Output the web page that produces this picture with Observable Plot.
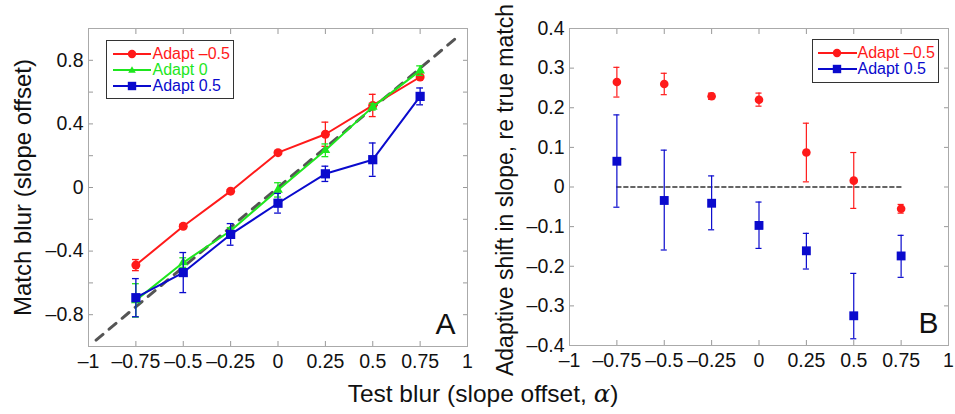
<!DOCTYPE html>
<html><head><meta charset="utf-8">
<script src="https://cdn.jsdelivr.net/npm/d3@7"></script>
<script src="https://cdn.jsdelivr.net/npm/@observablehq/plot@0.6"></script>
<style>
body{margin:0;background:#fff;}
#wrap{position:relative;width:955px;height:414px;font-family:"Liberation Sans",Arial,sans-serif;overflow:hidden;}
#wrap svg.plot{position:absolute;top:0;}
.legend{position:absolute;border:1.5px solid #333;background:#fff;font-size:16px;box-sizing:border-box;padding-top:5px;}
.row{display:flex;align-items:center;height:16px;line-height:16px;white-space:nowrap;}
.row svg{flex:none;}
#xtitle{position:absolute;top:382px;left:483px;transform:translateX(-50%);font-size:24.5px;line-height:24px;white-space:nowrap;color:#111;}
</style>
</head><body>
<div id="wrap"></div>
<script>
// ---------- data ----------
const testBlur = [-0.75, -0.5, -0.25, 0, 0.25, 0.5, 0.75];

// Panel A: match blur
const matchAdaptNeg = [-0.488, -0.244, -0.023, 0.219, 0.335, 0.516, 0.695];
const errAdaptNeg   = [0.035, 0.012, 0.008, 0.010, 0.076, 0.070, 0.012];
const matchAdapt0   = [-0.71, -0.472, -0.272, -0.015, 0.234, 0.507, 0.735];
const errAdapt0     = [0.105, 0.030, 0.020, 0.045, 0.040, 0.020, 0.030];
const matchAdaptPos = [-0.693, -0.535, -0.295, -0.099, 0.086, 0.175, 0.573];
const errAdaptPos   = [0.120, 0.126, 0.068, 0.062, 0.048, 0.105, 0.053];

// Panel B: adaptive shift
const shiftAdaptNeg = [0.265, 0.260, 0.229, 0.220, 0.087, 0.016, -0.055];
const shiftNegLo    = [0.227, 0.233, 0.221, 0.204, 0.013, -0.054, -0.066];
const shiftNegHi    = [0.302, 0.287, 0.237, 0.237, 0.161, 0.087, -0.044];
const shiftAdaptPos = [0.065, -0.034, -0.041, -0.097, -0.161, -0.325, -0.174];
const shiftPosLo    = [-0.051, -0.159, -0.108, -0.155, -0.207, -0.383, -0.228];
const shiftPosHi    = [0.182, 0.093, 0.028, -0.038, -0.117, -0.218, -0.122];

const seriesNames = ["Adapt \u20130.5", "Adapt 0", "Adapt 0.5"];
const seriesColors = ["#ff1a1a", "#1ee61e", "#0a0acd"];
const seriesSymbols = ["circle", "triangle", "square"];

const xTicks = [-1, -0.75, -0.5, -0.25, 0, 0.25, 0.5, 0.75, 1];
const yTicksA = [-0.8, -0.6, -0.4, -0.2, 0, 0.2, 0.4, 0.6, 0.8];
const yLabelsA = [-0.8, -0.4, 0, 0.4, 0.8];
const yTicksB = [-0.4, -0.3, -0.2, -0.1, 0, 0.1, 0.2, 0.3, 0.4];
const identityExtent = [-0.96, 0.96];
const zeroLineExtent = [-0.75, 0.75];

const xTitle = "Test blur (slope offset, ";
const yTitleA = "Match blur (slope offset)";
const yTitleB = "Adaptive shift in slope, re true match";

// ---------- helpers ----------
const fmt = d => d < 0 ? "\u2013" + String(Math.abs(d)) : String(d);
const font = "Liberation Sans, Arial, sans-serif";

function frameTicks(yTicks, yLabels) {
  const tk = {tickSize: 5, fill: "none", label: null, stroke: "#999"};
  return [
    Plot.axisX(xTicks, {...tk, anchor: "bottom", dy: -5}),
    Plot.axisX(xTicks, {...tk, anchor: "top", dy: 5}),
    Plot.axisY(yTicks, {...tk, anchor: "left", dx: 5}),
    Plot.axisY(yTicks, {...tk, anchor: "right", dx: -5}),
    Plot.axisX(xTicks, {anchor: "bottom", tickSize: 0, tickPadding: 8, tickFormat: fmt, label: null, fill: "#111", fontSize: 19.5}),
    Plot.axisY(yLabels, {anchor: "left", tickSize: 0, tickPadding: 5, tickFormat: fmt, label: null, fill: "#111", fontSize: 19.5}),
    Plot.frame({stroke: "#aaa"})
  ];
}

function rows(xs, ys, lo, hi) {
  return xs.map((x, i) => ({x, y: ys[i], lo: lo[i], hi: hi[i]}));
}

function errMarks(data, color, cap, sw) {
  return [
    Plot.ruleX(data, {x: "x", y1: "lo", y2: "hi", stroke: color, strokeWidth: sw}),
    Plot.ruleY(data, {y: "lo", x1: d => d.x - cap, x2: d => d.x + cap, stroke: color, strokeWidth: sw}),
    Plot.ruleY(data, {y: "hi", x1: d => d.x - cap, x2: d => d.x + cap, stroke: color, strokeWidth: sw})
  ];
}

// ---------- Panel A ----------
const dataA = [
  rows(testBlur, matchAdaptNeg, matchAdaptNeg.map((v, i) => v - errAdaptNeg[i]), matchAdaptNeg.map((v, i) => v + errAdaptNeg[i])),
  rows(testBlur, matchAdapt0, matchAdapt0.map((v, i) => v - errAdapt0[i]), matchAdapt0.map((v, i) => v + errAdapt0[i])),
  rows(testBlur, matchAdaptPos, matchAdaptPos.map((v, i) => v - errAdaptPos[i]), matchAdaptPos.map((v, i) => v + errAdaptPos[i]))
];
const markerR = [4.5, 3.6, 5.2];

const marksA = [
  Plot.line(identityExtent.map(v => ({x: v, y: v})), {x: "x", y: "y", stroke: "#555", strokeWidth: 3, strokeDasharray: "9,8"}),
];
dataA.forEach((d, k) => {
  marksA.push(...errMarks(d, seriesColors[k], 0.018, 1.3));
  marksA.push(Plot.line(d, {x: "x", y: "y", stroke: seriesColors[k], strokeWidth: 2}));
  marksA.push(Plot.dot(d, {x: "x", y: "y", symbol: seriesSymbols[k], r: markerR[k], fill: seriesColors[k], stroke: "none"}));
});
marksA.push(...frameTicks(yTicksA, yLabelsA));
marksA.push(Plot.text([yTitleA], {text: d => d, frameAnchor: "left", textAnchor: "middle", lineAnchor: "middle", rotate: -90, dx: -65, fontSize: 24, fill: "#111"}));
marksA.push(Plot.text(["A"], {text: d => d, frameAnchor: "bottom-right", textAnchor: "end", lineAnchor: "bottom", dx: -12, dy: -13, fontSize: 30, fill: "#111"}));

const plotA = Plot.plot({
  width: 480, height: 414,
  marginLeft: 88, marginRight: 13, marginTop: 28, marginBottom: 68,
  x: {domain: [-1, 1]}, y: {domain: [-1, 1]},
  style: {fontFamily: font, fontSize: "18px", background: "transparent", overflow: "visible"},
  marks: marksA
});
plotA.classList.add("plot");
plotA.style.left = "0px";

// ---------- Panel B ----------
const dataB = [
  rows(testBlur, shiftAdaptNeg, shiftNegLo, shiftNegHi),
  rows(testBlur, shiftAdaptPos, shiftPosLo, shiftPosHi)
];
const colorsB = [seriesColors[0], seriesColors[2]];
const symbolsB = [seriesSymbols[0], seriesSymbols[2]];
const rB = [4.3, 5.0];
const marksB = [
  Plot.line(zeroLineExtent.map(v => ({x: v, y: 0})), {x: "x", y: "y", stroke: "#333", strokeWidth: 1.6, strokeDasharray: "4,3"})
];
dataB.forEach((d, k) => {
  marksB.push(...errMarks(d, colorsB[k], 0.016, 1.2));
  marksB.push(Plot.dot(d, {x: "x", y: "y", symbol: symbolsB[k], r: rB[k], fill: colorsB[k], stroke: "none"}));
});
marksB.push(...frameTicks(yTicksB, yTicksB));
marksB.push(Plot.text([yTitleB], {text: d => d, frameAnchor: "left", textAnchor: "middle", lineAnchor: "middle", rotate: -90, dx: -64, dy: 3, fontSize: 23, fill: "#111"}));
marksB.push(Plot.text(["B"], {text: d => d, frameAnchor: "bottom-right", textAnchor: "end", lineAnchor: "bottom", dx: -10, dy: -13, fontSize: 30, fill: "#111"}));

const plotB = Plot.plot({
  width: 475, height: 414,
  marginLeft: 89, marginRight: 7, marginTop: 28, marginBottom: 69,
  x: {domain: [-1, 1]}, y: {domain: [-0.4, 0.4]},
  style: {fontFamily: font, fontSize: "18px", background: "transparent", overflow: "visible"},
  marks: marksB
});
plotB.classList.add("plot");
plotB.style.left = "480px";

const wrap = document.getElementById("wrap");
wrap.append(plotA, plotB);

// ---------- legends ----------
function swatch(color, symbol, w, mx) {
  const ns = "http://www.w3.org/2000/svg";
  const s = document.createElementNS(ns, "svg");
  s.setAttribute("width", w); s.setAttribute("height", 16);
  const l = document.createElementNS(ns, "line");
  l.setAttribute("x1", 0); l.setAttribute("x2", w); l.setAttribute("y1", 8); l.setAttribute("y2", 8);
  l.setAttribute("stroke", color); l.setAttribute("stroke-width", 2);
  s.append(l);
  let m;
  if (symbol === "circle") {
    m = document.createElementNS(ns, "circle");
    m.setAttribute("cx", mx); m.setAttribute("cy", 8); m.setAttribute("r", 4.2);
  } else if (symbol === "square") {
    m = document.createElementNS(ns, "rect");
    m.setAttribute("x", mx - 4.2); m.setAttribute("y", 3.8); m.setAttribute("width", 8.4); m.setAttribute("height", 8.4);
  } else {
    m = document.createElementNS(ns, "path");
    m.setAttribute("d", `M${mx},4.2L${mx + 3.8},10.8L${mx - 3.8},10.8Z`);
  }
  m.setAttribute("fill", color);
  s.append(m);
  return s;
}
function legend(idx, box, w, mx, padLeft, gap) {
  const div = document.createElement("div");
  div.className = "legend";
  Object.assign(div.style, {left: box[0] + "px", top: box[1] + "px", width: box[2] + "px", height: box[3] + "px", paddingLeft: padLeft + "px"});
  idx.forEach(k => {
    const r = document.createElement("div");
    r.className = "row";
    const sp = document.createElement("span");
    sp.textContent = seriesNames[k];
    sp.style.color = seriesColors[k];
    sp.style.marginLeft = gap + "px";
    r.append(swatch(seriesColors[k], seriesSymbols[k], w, mx), sp);
    div.append(r);
  });
  wrap.append(div);
}
legend([0, 1, 2], [106, 40, 128, 59], 38, 19, 5.5, 2);
legend([0, 2], [812, 39, 127, 44], 39, 19, 4.5, 1);

// ---------- shared x title ----------
const xt = document.createElement("div");
xt.id = "xtitle";
xt.append(document.createTextNode(xTitle));
const alpha = document.createElement("span");
alpha.textContent = "\u03b1";
alpha.style.fontFamily = "DejaVu Serif, serif";
alpha.style.fontStyle = "italic";
xt.append(alpha, document.createTextNode(")"));
wrap.append(xt);
</script>
</body></html>
